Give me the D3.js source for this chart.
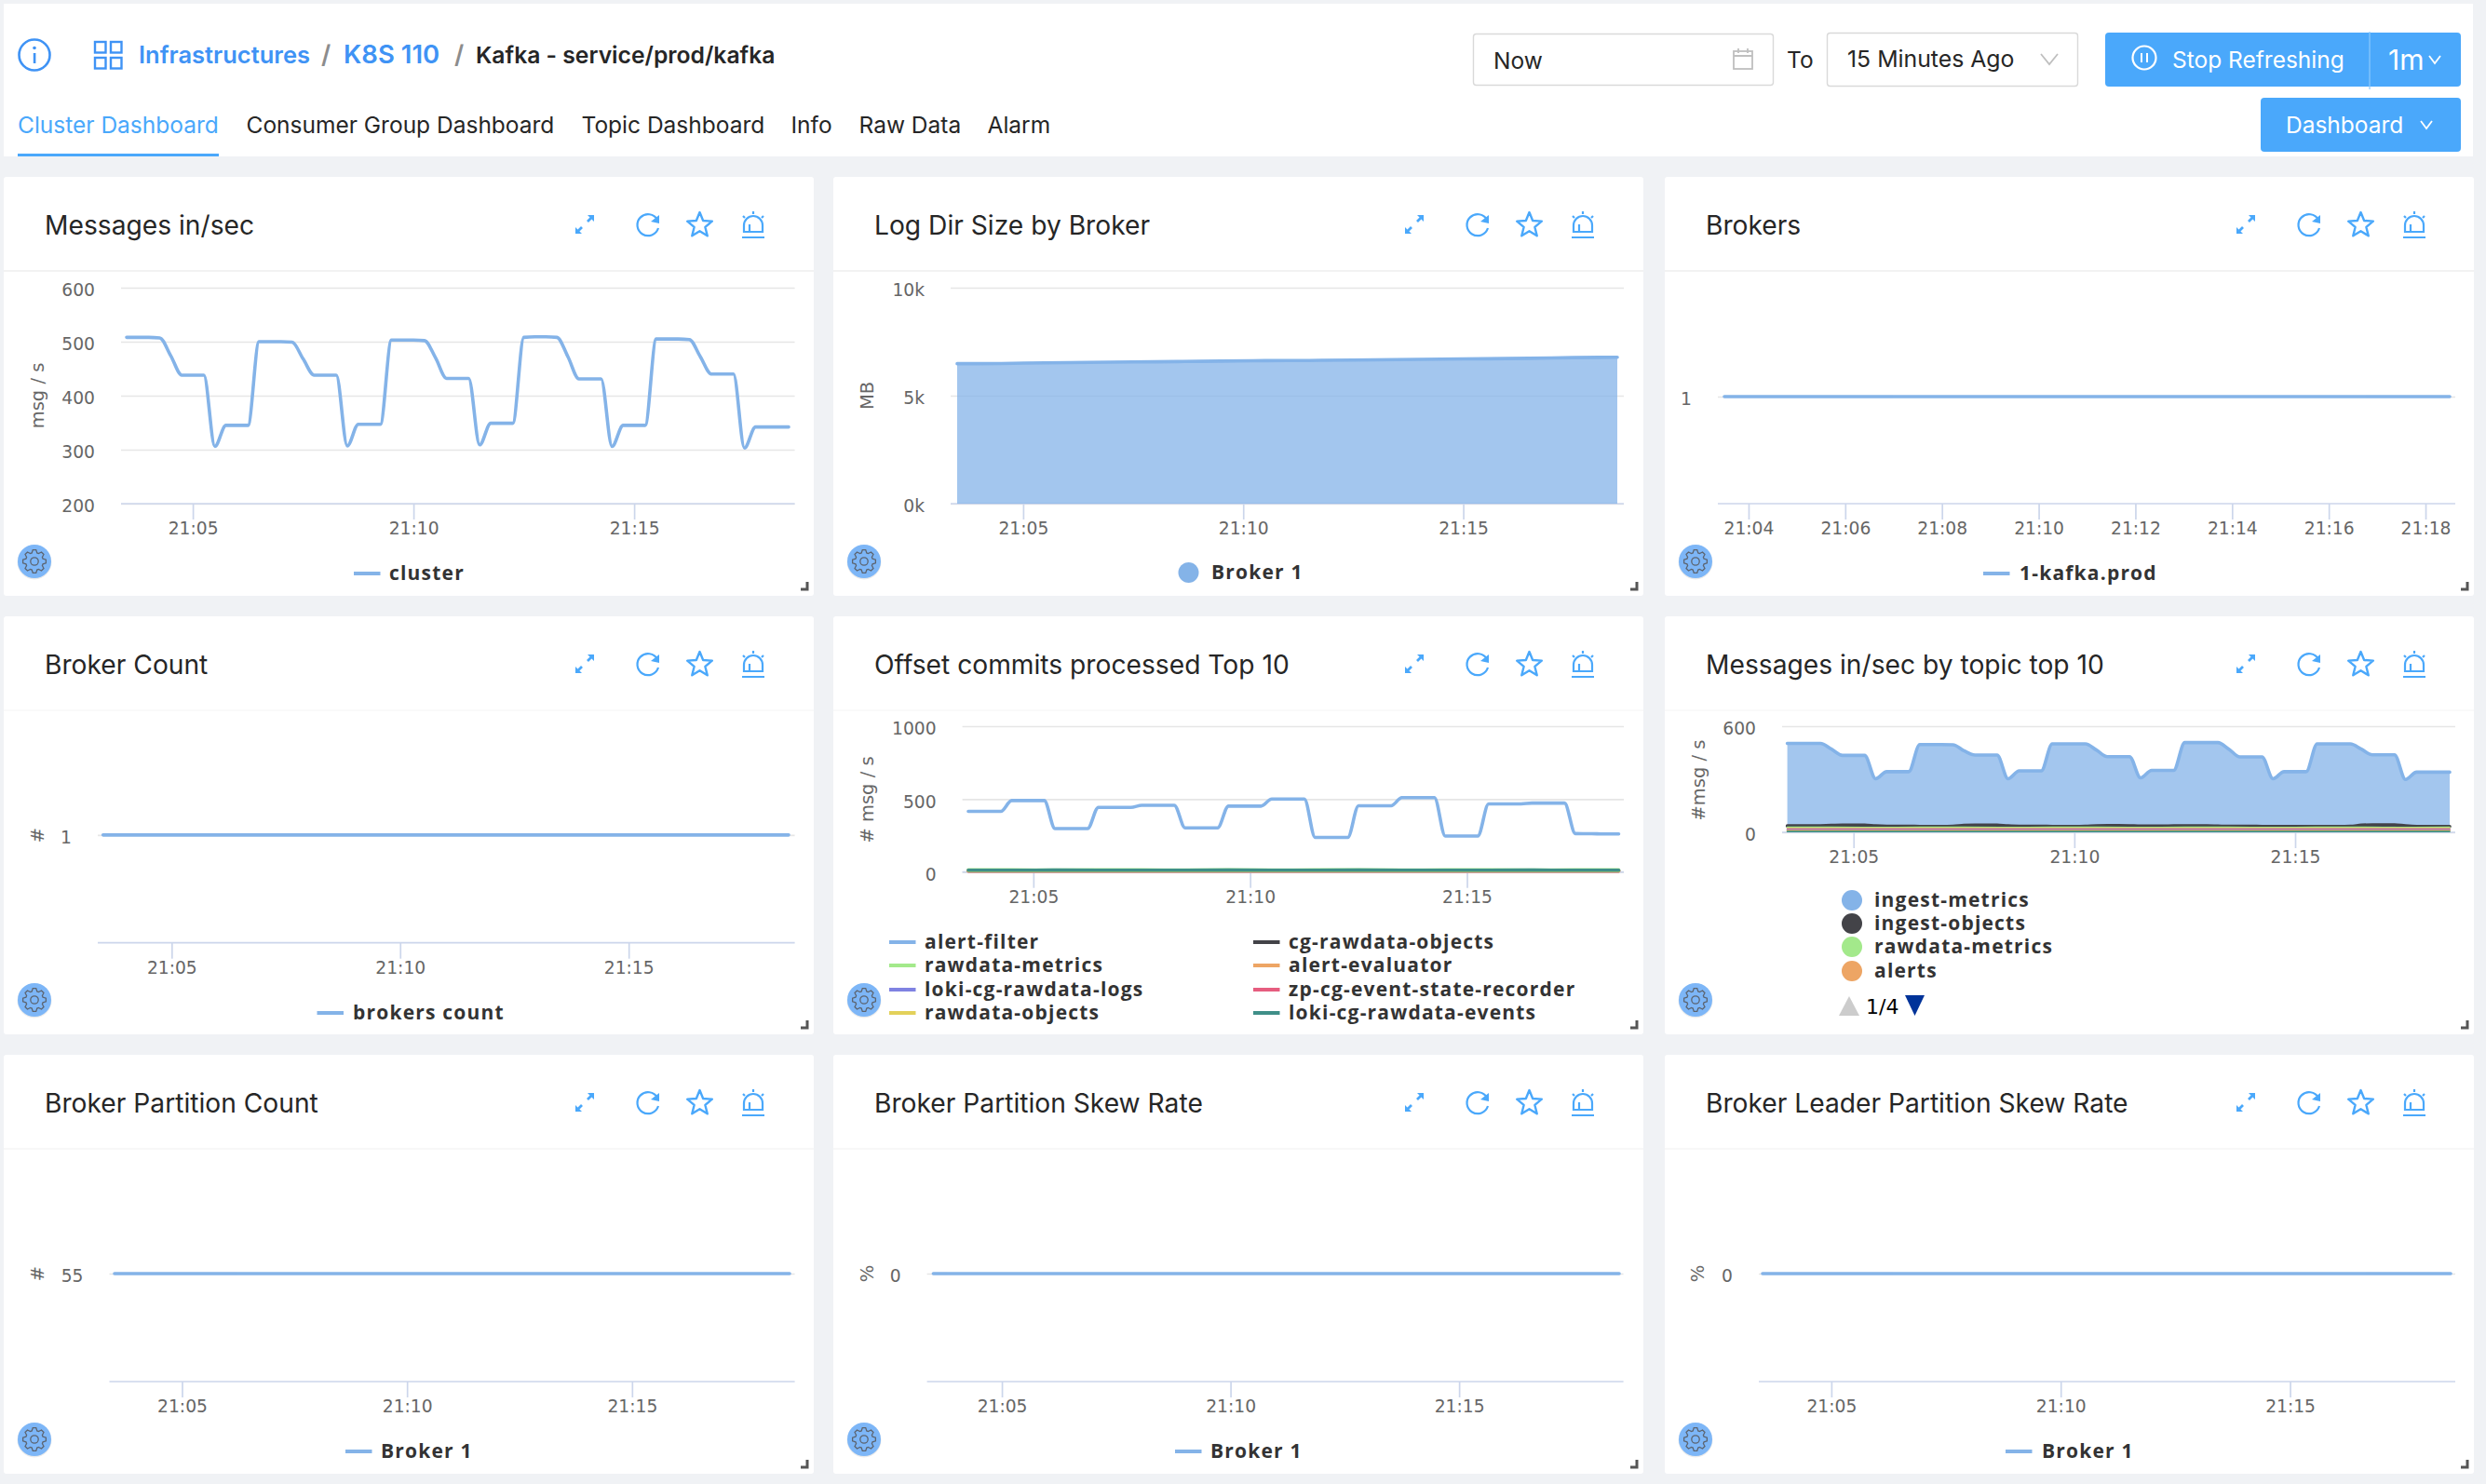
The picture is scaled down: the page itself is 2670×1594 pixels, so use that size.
<!DOCTYPE html>
<html>
<head>
<meta charset="utf-8">
<title>Kafka - service/prod/kafka</title>
<script src="https://cdnjs.cloudflare.com/ajax/libs/d3/7.8.5/d3.min.js"></script>
<style>
	body { margin: 0; background: #f0f2f5; }
	svg { display: block; }
	.ui { font-family: Inter, "Noto Sans", sans-serif; }
	.axis text { font-family: "DejaVu Sans", sans-serif; font-size: 18.7px; fill: #666; }
	.axisTitle { font-family: "DejaVu Sans", sans-serif; font-size: 19.5px; fill: #666; text-anchor: middle; }
	.legend { font-family: "Open Sans", sans-serif; font-size: 21px; font-weight: 700; fill: #333; letter-spacing: 1.2px; }
</style>
</head>
<body>
<svg id="board" width="2670" height="1594"></svg>
<script>
//////////////////////////////////////////////////
// data
//////////////////////////////////////////////////
var tabNames = ['Cluster Dashboard', 'Consumer Group Dashboard', 'Topic Dashboard', 'Info', 'Raw Data', 'Alarm'];
var fiveMinTicks = ['21:05', '21:10', '21:15'];
var twoMinTicks = ['21:04', '21:06', '21:08', '21:10', '21:12', '21:14', '21:16', '21:18'];

var messagesInValues = [
	508, 508, 508, 507, 474, 438, 438, 438, 306, 345, 345, 345,
	500, 500, 500, 499, 468, 438, 438, 438, 307, 347, 347, 347,
	503, 503, 503, 502, 470, 432, 432, 432, 309, 349, 349, 349,
	508, 509, 509, 508, 472, 431, 431, 431, 306, 345, 345, 345,
	505, 505, 505, 504, 472, 440, 440, 440, 303, 342, 342, 342,
	342
];
var logDirValues = [6480, 6490, 6520, 6540, 6560, 6580, 6600, 6620, 6630, 6650, 6670, 6690, 6710, 6730, 6760, 6780];
var brokerUpValues = [1, 1, 1, 1, 1, 1, 1, 1, 1, 1, 1, 1, 1, 1, 1, 1];
var brokerCountValues = [1, 1, 1, 1, 1, 1, 1, 1, 1, 1, 1, 1, 1, 1, 1, 1];
var partitionCountValues = [55, 55, 55, 55, 55, 55, 55, 55, 55, 55, 55, 55, 55, 55, 55, 55];
var partitionSkewValues = [0, 0, 0, 0, 0, 0, 0, 0, 0, 0, 0, 0, 0, 0, 0, 0];
var leaderSkewValues = [0, 0, 0, 0, 0, 0, 0, 0, 0, 0, 0, 0, 0, 0, 0, 0];

var alertFilterValues = [
	416, 416, 416, 416, 490, 490, 490, 490, 298, 298, 298, 298,
	443, 443, 443, 443, 458, 458, 458, 458, 303, 303, 303, 303,
	452, 452, 452, 452, 501, 501, 501, 501, 237, 237, 237, 237,
	454, 454, 454, 454, 510, 510, 510, 510, 247, 247, 247, 247,
	467, 467, 467, 467, 473, 473, 473, 473, 264, 263, 262, 261,
	261
];
var offsetRawdataMetrics = [15, 15, 14, 15, 15, 14, 15, 14, 15, 15, 14, 15, 15, 14, 15, 15];
var offsetCgObjects = [11, 11, 12, 11, 11, 11, 12, 11, 11, 12, 11, 11, 11, 12, 11, 11];
var offsetAlertEvaluator = [9, 9, 9, 9, 9, 9, 9, 9, 9, 9, 9, 9, 9, 9, 9, 9];
var offsetLogs = [7, 7, 7, 7, 7, 7, 7, 7, 7, 7, 7, 7, 7, 7, 7, 7];
var offsetStateRecorder = [6, 6, 6, 6, 6, 6, 6, 6, 6, 6, 6, 6, 6, 6, 6, 6];
var offsetRawdataObjects = [8, 8, 8, 8, 8, 8, 8, 8, 8, 8, 8, 8, 8, 8, 8, 8];
var offsetEvents = [12, 12, 13, 12, 12, 12, 13, 12, 12, 13, 12, 12, 12, 13, 12, 12];

var ingestMetricsValues = [
	503, 503, 503, 503, 470, 435, 435, 435, 303, 343, 343, 343,
	496, 496, 496, 495, 461, 437, 437, 437, 303, 347, 347, 347,
	500, 500, 500, 500, 465, 428, 428, 428, 308, 350, 350, 350,
	507, 507, 507, 507, 470, 426, 426, 426, 303, 343, 343, 343,
	500, 500, 500, 500, 470, 438, 438, 438, 299, 340, 340, 340,
	340
];
var ingestObjectsValues = [
	36, 36, 36, 37, 39, 41, 41, 41, 36, 34, 34, 34,
	33, 33, 33, 34, 39, 41, 41, 40, 36, 34, 34, 34,
	33, 33, 33, 34, 37, 38, 38, 37, 35, 35, 35, 36,
	36, 36, 36, 35, 34, 34, 34, 33, 33, 33, 33, 33,
	33, 33, 33, 34, 40, 42, 42, 42, 36, 33, 33, 33,
	33
];
var topicRawdataMetrics = [28, 28, 27, 28, 28, 27, 28, 28, 27, 28, 28, 27, 28, 28, 27, 28];
var topicAlerts = [22, 22, 22, 22, 22, 22, 22, 22, 22, 22, 22, 22, 22, 22, 22, 22];
var topicFifth = [17, 17, 17, 17, 17, 17, 17, 17, 17, 17, 17, 17, 17, 17, 17, 17];
var topicSixth = [13, 13, 13, 13, 13, 13, 13, 13, 13, 13, 13, 13, 13, 13, 13, 13];
var topicSeventh = [9, 9, 9, 9, 9, 9, 9, 9, 9, 9, 9, 9, 9, 9, 9, 9];
var topicEighth = [5, 5, 5, 5, 5, 5, 5, 5, 5, 5, 5, 5, 5, 5, 5, 5];

//////////////////////////////////////////////////
// colours and time grids
//////////////////////////////////////////////////
var palette = ['#84b3e8', '#434348', '#a3e98b', '#eda564', '#7f82e2', '#e65d7f', '#e3d15a', '#3f8f88'];
var accent = '#4aa8fb';
var link = '#3f93f5';

var parseClock = d3.timeParse('%H:%M:%S');
var parseTick = d3.timeParse('%H:%M');
var startTime = parseClock('21:03:30');
var quarterTimes = d3.range(61).map(function(i) { return d3.timeSecond.offset(startTime, i * 15); });
var minuteTimes = d3.range(16).map(function(i) { return d3.timeMinute.offset(startTime, i); });

function makeSeries(name, color, times, values) {
	return {
		name: name,
		color: color,
		points: values.map(function(v, i) { return {t: times[i], v: v}; })
	};
}

var svg = d3.select('#board');

//////////////////////////////////////////////////
// panels
//////////////////////////////////////////////////
var panels = [{
	title: 'Messages in/sec', left: 4, top: 190, right: 874, bottom: 640, rule: '#eeeeee',
	plotL: 130, plotR: 853.6, dataL: 136, dataR: 847, yTop: 309, yBase: 541,
	yDomain: [200, 600], yTicks: [200, 300, 400, 500, 600], xTicks: fiveMinTicks,
	yTitle: 'msg / s', yTitleX: 40, yTitleY: 425,
	series: [makeSeries('cluster', palette[0], quarterTimes, messagesInValues)],
	legend: {kind: 'line', x: 380, items: ['cluster'], y: [616], textX: 418}
}, {
	title: 'Log Dir Size by Broker', left: 895, top: 190, right: 1765, bottom: 640, rule: '#eeeeee',
	plotL: 1021, plotR: 1744, dataL: 1028, dataR: 1737, yTop: 309, yBase: 541,
	yDomain: [0, 10000], yTicks: [0, 5000, 10000], yFormat: function(d) { return (d / 1000) + 'k'; }, xTicks: fiveMinTicks,
	yTitle: 'MB', yTitleX: 931, yTitleY: 425, area: true,
	series: [makeSeries('Broker 1', palette[0], minuteTimes, logDirValues)],
	legend: {kind: 'dot', x: 1276.5, items: ['Broker 1'], y: [615], textX: 1301}
}, {
	title: 'Brokers', left: 1788, top: 190, right: 2657, bottom: 640, rule: '#eeeeee',
	plotL: 1845, plotR: 2637, dataL: 1852, dataR: 2631, yTop: 311, yBase: 541,
	yDomain: [0, 2], yTicks: [1], xTicks: twoMinTicks,
	series: [makeSeries('1-kafka.prod', palette[0], minuteTimes, brokerUpValues)],
	legend: {kind: 'line', x: 2130, items: ['1-kafka.prod'], y: [616], textX: 2169}
}, {
	title: 'Broker Count', left: 4, top: 662, right: 874, bottom: 1111, rule: '#f9f9f9',
	plotL: 105, plotR: 853.6, dataL: 110.7, dataR: 847, yTop: 781, yBase: 1012.7,
	yDomain: [0, 2], yTicks: [1], xTicks: fiveMinTicks,
	yTitle: '#', yTitleX: 40, yTitleY: 897,
	series: [makeSeries('brokers count', palette[0], minuteTimes, brokerCountValues)],
	legend: {kind: 'line', x: 340.5, items: ['brokers count'], y: [1088], textX: 379}
}, {
	title: 'Offset commits processed Top 10', left: 895, top: 662, right: 1765, bottom: 1111, rule: '#f9f9f9',
	plotL: 1033.6, plotR: 1744, dataL: 1040, dataR: 1738.5, yTop: 780, yBase: 936.7,
	yDomain: [0, 1000], yTicks: [0, 500, 1000], xTicks: fiveMinTicks,
	yTitle: '# msg / s', yTitleX: 931, yTitleY: 859,
	series: [
		makeSeries('alert-filter', palette[0], quarterTimes, alertFilterValues),
		makeSeries('cg-rawdata-objects', palette[1], minuteTimes, offsetCgObjects),
		makeSeries('rawdata-metrics', palette[2], minuteTimes, offsetRawdataMetrics),
		makeSeries('alert-evaluator', palette[3], minuteTimes, offsetAlertEvaluator),
		makeSeries('loki-cg-rawdata-logs', palette[4], minuteTimes, offsetLogs),
		makeSeries('zp-cg-event-state-recorder', palette[5], minuteTimes, offsetStateRecorder),
		makeSeries('rawdata-objects', palette[6], minuteTimes, offsetRawdataObjects),
		makeSeries('loki-cg-rawdata-events', palette[7], minuteTimes, offsetEvents)
	],
	legend: {kind: 'grid'}
}, {
	title: 'Messages in/sec by topic top 10', left: 1788, top: 662, right: 2657, bottom: 1111, rule: '#f9f9f9',
	plotL: 1914, plotR: 2637, dataL: 1919.6, dataR: 2631, yTop: 780, yBase: 894,
	yDomain: [0, 600], yTicks: [0, 600], xTicks: fiveMinTicks,
	yTitle: '#msg / s', yTitleX: 1824, yTitleY: 838, area: true, thinFrom: 2,
	series: [
		makeSeries('ingest-metrics', palette[0], quarterTimes, ingestMetricsValues),
		makeSeries('ingest-objects', palette[1], quarterTimes, ingestObjectsValues),
		makeSeries('rawdata-metrics', palette[2], minuteTimes, topicRawdataMetrics),
		makeSeries('alerts', palette[3], minuteTimes, topicAlerts),
		makeSeries('', palette[4], minuteTimes, topicFifth),
		makeSeries('', palette[5], minuteTimes, topicSixth),
		makeSeries('', palette[6], minuteTimes, topicSeventh),
		makeSeries('', palette[7], minuteTimes, topicEighth)
	],
	legend: {kind: 'dot', x: 1989, items: ['ingest-metrics', 'ingest-objects', 'rawdata-metrics', 'alerts'], y: [967, 992, 1017, 1043], textX: 2013, paged: true}
}, {
	title: 'Broker Partition Count', left: 4, top: 1133, right: 874, bottom: 1583, rule: '#f5f5f5',
	plotL: 117.5, plotR: 853.6, dataL: 123, dataR: 848, yTop: 1252, yBase: 1484,
	yDomain: [0, 110], yTicks: [55], xTicks: fiveMinTicks,
	yTitle: '#', yTitleX: 40, yTitleY: 1368,
	series: [makeSeries('Broker 1', palette[0], minuteTimes, partitionCountValues)],
	legend: {kind: 'line', x: 371, items: ['Broker 1'], y: [1559], textX: 409}
}, {
	title: 'Broker Partition Skew Rate', left: 895, top: 1133, right: 1765, bottom: 1583, rule: '#f5f5f5',
	plotL: 995.6, plotR: 1743.6, dataL: 1002.4, dataR: 1739, yTop: 1252, yBase: 1484,
	yDomain: [-1, 1], yTicks: [0], xTicks: fiveMinTicks,
	yTitle: '%', yTitleX: 931, yTitleY: 1368,
	series: [makeSeries('Broker 1', palette[0], minuteTimes, partitionSkewValues)],
	legend: {kind: 'line', x: 1262, items: ['Broker 1'], y: [1559], textX: 1300}
}, {
	title: 'Broker Leader Partition Skew Rate', left: 1788, top: 1133, right: 2657, bottom: 1583, rule: '#f5f5f5',
	plotL: 1889, plotR: 2637, dataL: 1893, dataR: 2632, yTop: 1252, yBase: 1484,
	yDomain: [-1, 1], yTicks: [0], xTicks: fiveMinTicks,
	yTitle: '%', yTitleX: 1823, yTitleY: 1368,
	series: [makeSeries('Broker 1', palette[0], minuteTimes, leaderSkewValues)],
	legend: {kind: 'line', x: 2154, items: ['Broker 1'], y: [1559], textX: 2193}
}];

//////////////////////////////////////////////////
// header
//////////////////////////////////////////////////
function drawHeader() {
	var head = svg.append('g').attr('class', 'ui');

	head.append('rect').attr('x', 4).attr('y', 4).attr('width', 2652).attr('height', 164).attr('fill', '#fff');

	// info icon
	head.append('circle').attr('cx', 37).attr('cy', 59).attr('r', 16.5)
		.attr('fill', 'none').attr('stroke', link).attr('stroke-width', 2.6);
	head.append('rect').attr('x', 35.8).attr('y', 57).attr('width', 2.6).attr('height', 11).attr('fill', link);
	head.append('circle').attr('cx', 37).attr('cy', 51.5).attr('r', 1.8).attr('fill', link);

	// grid icon
	[[102, 45], [119, 45], [102, 62], [119, 62]].forEach(function(c) {
		head.append('rect').attr('x', c[0]).attr('y', c[1]).attr('width', 11.5).attr('height', 11.5)
			.attr('fill', 'none').attr('stroke', link).attr('stroke-width', 2.4);
	});

	function label(text, x, y, size, weight, color, anchor) {
		return head.append('text').attr('x', x).attr('y', y).text(text)
			.attr('font-size', size).attr('font-weight', weight).attr('fill', color)
			.attr('text-anchor', anchor || 'start');
	}

	label('Infrastructures', 149, 68, 25.5, 600, link);
	label('/', 345, 68, 27, 600, '#8c8c8c');
	label('K8S 110', 369, 68, 27.5, 600, link);
	label('/', 488, 68, 27, 600, '#8c8c8c');
	label('Kafka - service/prod/kafka', 511, 68, 24.7, 600, '#262626');

	var tabX = [19, 264.5, 624.5, 849.5, 922.5, 1060.5];
	tabNames.forEach(function(t, i) {
		label(t, tabX[i], 143, 24.5, 400, i == 0 ? accent : '#262626');
	});
	head.append('rect').attr('x', 19).attr('y', 165).attr('width', 216).attr('height', 3).attr('fill', accent);

	// time pickers
	head.append('rect').attr('x', 1582.5).attr('y', 36.5).attr('width', 322).attr('height', 55).attr('rx', 3)
		.attr('fill', '#fff').attr('stroke', '#d9d9d9').attr('stroke-width', 1.4);
	label('Now', 1604, 74, 24.5, 400, '#262626');
	head.append('rect').attr('x', 1862).attr('y', 55).attr('width', 20).attr('height', 19)
		.attr('fill', 'none').attr('stroke', '#bfbfbf').attr('stroke-width', 1.8);
	head.append('path').attr('d', 'M1862 60H1882M1867 52V57M1877 52V57')
		.attr('fill', 'none').attr('stroke', '#bfbfbf').attr('stroke-width', 1.8);
	label('To', 1919, 73, 24.5, 400, '#262626');
	head.append('rect').attr('x', 1962.5).attr('y', 35.5).attr('width', 269).attr('height', 57).attr('rx', 3)
		.attr('fill', '#fff').attr('stroke', '#d9d9d9').attr('stroke-width', 1.4);
	label('15 Minutes Ago', 1984, 72, 24.8, 400, '#262626');
	head.append('path').attr('d', 'M2192 58L2201 69L2210 58')
		.attr('fill', 'none').attr('stroke', '#bfbfbf').attr('stroke-width', 1.8);

	// refresh button
	head.append('rect').attr('x', 2261).attr('y', 35).attr('width', 382).attr('height', 58).attr('rx', 4).attr('fill', accent);
	head.append('line').attr('x1', 2545).attr('x2', 2545).attr('y1', 34).attr('y2', 96)
		.attr('stroke', '#8ccafd').attr('stroke-width', 1.2);
	head.append('circle').attr('cx', 2303).attr('cy', 62).attr('r', 12.5)
		.attr('fill', 'none').attr('stroke', '#fff').attr('stroke-width', 2.2);
	head.append('path').attr('d', 'M2300 57V67M2306 57V67').attr('stroke', '#fff').attr('stroke-width', 2);
	label('Stop Refreshing', 2333, 73, 24.5, 400, '#fff');
	label('1m', 2565, 75, 30, 400, '#fff');
	head.append('path').attr('d', 'M2609 60L2615 68L2621 60').attr('fill', 'none').attr('stroke', '#fff').attr('stroke-width', 1.8);

	// dashboard button
	head.append('rect').attr('x', 2428).attr('y', 105).attr('width', 215).attr('height', 58).attr('rx', 4).attr('fill', accent);
	label('Dashboard', 2455, 143, 24.5, 400, '#fff');
	head.append('path').attr('d', 'M2600 130L2606 138L2612 130').attr('fill', 'none').attr('stroke', '#fff').attr('stroke-width', 1.8);
}

//////////////////////////////////////////////////
// panel furniture
//////////////////////////////////////////////////
function drawIcons(g, offsetX, cy) {
	var icons = g.append('g').attr('fill', 'none').attr('stroke', accent).attr('stroke-width', 2.2);

	// expand
	var ex = icons.append('g').attr('transform', 'translate(' + (offsetX + 624) + ',' + cy + ')');
	ex.append('path').attr('d', 'M-3 3L-8 8M3 -3L8 -8').attr('stroke-width', 2.8);
	ex.append('path').attr('d', 'M-10 10L-10 3L-3 10ZM10 -10L10 -3L3 -10Z').attr('fill', accent).attr('stroke', 'none');

	// refresh
	var rf = icons.append('g').attr('transform', 'translate(' + (offsetX + 692) + ',' + cy + ')');
	rf.append('path').attr('d', 'M10 -5A11.5 11.5 0 1 0 11 4');
	rf.append('path').attr('d', 'M12 -10L12 -1L3 -3Z').attr('fill', accent).attr('stroke', 'none');

	// star
	var outer = 14, inner = 6.2;
	var starPts = d3.range(10).map(function(i) {
		var r = i % 2 ? inner : outer, a = i * Math.PI / 5;
		return [r * Math.sin(a), -r * Math.cos(a)];
	});
	icons.append('path')
		.attr('transform', 'translate(' + (offsetX + 747.5) + ',' + (cy + 1) + ')')
		.attr('d', d3.line()(starPts) + 'Z').attr('stroke-linejoin', 'round').attr('stroke-width', 2.4);

	// alarm
	var al = icons.append('g').attr('transform', 'translate(' + (offsetX + 805) + ',' + cy + ')');
	al.append('path').attr('d', 'M-10 8V1A10 10 0 0 1 10 1V8Z');
	al.append('path').attr('d', 'M-12 14H12M0 -14V-11M-11 -9L-9 -7M11 -9L9 -7M-4 8V0');
}

function drawGear(g, cx, cy) {
	g.append('circle').attr('cx', cx).attr('cy', cy + 1).attr('r', 18.5).attr('fill', '#000').attr('opacity', 0.08);
	g.append('circle').attr('cx', cx).attr('cy', cy).attr('r', 18).attr('fill', '#7db6f7');
	var pts = [];
	d3.range(8).forEach(function(i) {
		var a = i * Math.PI / 4;
		[[9.5, -0.3], [12.5, -0.14], [12.5, 0.14], [9.5, 0.3]].forEach(function(p) {
			pts.push([cx + p[0] * Math.cos(a + p[1]), cy + p[0] * Math.sin(a + p[1])]);
		});
	});
	g.append('path').attr('d', d3.line()(pts) + 'Z').attr('fill', 'none').attr('stroke', '#5c6470').attr('stroke-width', 1.3);
	g.append('circle').attr('cx', cx).attr('cy', cy).attr('r', 4.2).attr('fill', 'none').attr('stroke', '#5c6470').attr('stroke-width', 1.3);
}

function drawLegend(g, p) {
	var lg = g.append('g');

	function lineKey(x, y, color) {
		lg.append('line').attr('x1', x).attr('x2', x + 28.5).attr('y1', y).attr('y2', y)
			.attr('stroke', color).attr('stroke-width', 4);
	}
	function keyText(x, y, text) {
		lg.append('text').attr('class', 'legend').attr('x', x).attr('y', y + 7).text(text);
	}

	if(p.legend.kind == 'grid') {
		var rowY = [1012, 1037, 1063, 1088];
		p.series.forEach(function(s, i) {
			var row = Math.floor(i / 2), col = i % 2;
			lineKey(col ? 1346 : 955, rowY[row], s.color);
			keyText(col ? 1384 : 993, rowY[row], s.name);
		});
		return;
	}

	p.legend.items.forEach(function(name, i) {
		var y = p.legend.y[i];
		if(p.legend.kind == 'dot') {
			lg.append('circle').attr('cx', p.legend.x).attr('cy', y).attr('r', 11).attr('fill', p.series[i].color);
		} else {
			lineKey(p.legend.x, y, p.series[i].color);
		}
		keyText(p.legend.textX, y, name);
	});

	if(p.legend.paged) {
		lg.append('path').attr('d', 'M1986 1070L1997 1091H1975Z').attr('fill', '#ccc');
		lg.append('text').attr('x', 2004).attr('y', 1089).text('1/4')
			.attr('font-family', '"DejaVu Sans", sans-serif').attr('font-size', 22).attr('fill', '#000');
		lg.append('path').attr('d', 'M2046 1069H2067L2056.5 1091Z').attr('fill', '#003399');
	}
}

//////////////////////////////////////////////////
// one panel
//////////////////////////////////////////////////
function drawPanel(p) {
	var g = svg.append('g');

	g.append('rect').attr('x', p.left).attr('y', p.top)
		.attr('width', p.right - p.left).attr('height', p.bottom - p.top)
		.attr('rx', 3).attr('fill', '#fff');
	g.append('line').attr('x1', p.left).attr('x2', p.right).attr('y1', p.top + 101).attr('y2', p.top + 101)
		.attr('stroke', p.rule).attr('stroke-width', 1.4);
	g.append('text').attr('class', 'ui').attr('x', p.left + 44).attr('y', p.top + 62)
		.attr('font-size', 28.2).attr('font-weight', 400).attr('fill', '#262626').text(p.title);
	drawIcons(g, p.left, p.top + 51);

	var x = d3.scaleTime().domain([startTime, d3.timeMinute.offset(startTime, 15)]).range([p.dataL, p.dataR]);
	var y = d3.scaleLinear().domain(p.yDomain).range([p.yBase, p.yTop]);

	// y axis and grid
	var yAxis = d3.axisLeft(y).tickValues(p.yTicks)
		.tickSize(-(p.plotR - p.plotL)).tickPadding(28)
		.tickFormat(p.yFormat || d3.format('d'));
	var yg = g.append('g').attr('class', 'axis').attr('transform', 'translate(' + p.plotL + ',0)').call(yAxis);
	yg.select('.domain').remove();
	yg.selectAll('line').attr('stroke', '#e6e6e6').attr('stroke-width', 1.7);
	yg.selectAll('text').attr('dy', '0.47em');

	if(p.yTitle) {
		g.append('text').attr('class', 'axisTitle')
			.attr('transform', 'translate(' + (p.yTitleX + 7) + ',' + p.yTitleY + ') rotate(-90)')
			.text(p.yTitle);
	}

	// x axis
	var xAxis = d3.axisBottom(x)
		.tickValues(p.xTicks.map(function(t) { return parseTick(t); }))
		.tickSize(17).tickPadding(3)
		.tickFormat(d3.timeFormat('%H:%M'));
	var xg = g.append('g').attr('class', 'axis').attr('transform', 'translate(0,' + p.yBase + ')').call(xAxis);
	xg.select('.domain').remove();
	xg.selectAll('line').attr('stroke', '#ccd6eb').attr('stroke-width', 1.7);
	g.append('line').attr('x1', p.plotL).attr('x2', p.plotR).attr('y1', p.yBase).attr('y2', p.yBase)
		.attr('stroke', '#ccd6eb').attr('stroke-width', 1.7);

	// marks
	var line = d3.line().curve(d3.curveMonotoneX)
		.x(function(d) { return x(d.t); })
		.y(function(d) { return y(d.v); });
	var area = d3.area().curve(d3.curveMonotoneX)
		.x(function(d) { return x(d.t); })
		.y0(y(Math.max(p.yDomain[0], 0)))
		.y1(function(d) { return y(d.v); });

	p.series.forEach(function(s, i) {
		var thin = p.thinFrom !== undefined && i >= p.thinFrom;
		if(p.area) {
			g.append('path').datum(s.points).attr('d', area).attr('fill', s.color).attr('opacity', thin ? 0.45 : 0.75);
		}
		g.append('path').datum(s.points).attr('d', line)
			.attr('fill', 'none').attr('stroke', s.color).attr('stroke-width', thin ? 1.7 : 3.6)
			.attr('stroke-linejoin', 'round').attr('stroke-linecap', 'round');
	});

	drawLegend(g, p);
	drawGear(g, p.left + 33, p.bottom - 37);

	// resize handle
	g.append('path').attr('d', 'M' + (p.right - 7) + ' ' + (p.bottom - 15) + 'V' + (p.bottom - 7) + 'H' + (p.right - 14))
		.attr('fill', 'none').attr('stroke', '#555').attr('stroke-width', 3);
}

drawHeader();
panels.forEach(drawPanel);
</script>
</body>
</html>
